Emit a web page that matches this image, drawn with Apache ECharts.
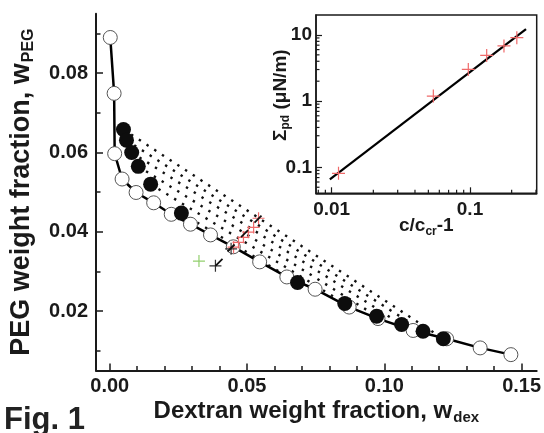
<!DOCTYPE html>
<html><head><meta charset="utf-8">
<script src="https://cdn.jsdelivr.net/npm/echarts@6/dist/echarts.min.js"></script>
<style>html,body{margin:0;padding:0;background:#fff}#c{width:544px;height:433px}</style>
</head><body><div id="c"></div>
<script>
// ---------- main plot data ----------
const binodal = [
  [0.0002, 0.0890], [0.0016, 0.0749], [0.0018, 0.0597], [0.0045, 0.0533],
  [0.0096, 0.0499], [0.0160, 0.0473], [0.0224, 0.0444], [0.0294, 0.0419],
  [0.0367, 0.0392], [0.0450, 0.0362], [0.0546, 0.0324], [0.0645, 0.0286],
  [0.0748, 0.0255], [0.0872, 0.0210], [0.0977, 0.0181], [0.1105, 0.0151],
  [0.1227, 0.0130], [0.1349, 0.0107], [0.1461, 0.0090]
];
const tieUpper = [[0.0050, 0.0658], [0.0061, 0.0631], [0.0080, 0.0600], [0.0104, 0.0565], [0.0149, 0.0520], [0.0261, 0.0447]];
const tieLower = [[0.1215, 0.0130], [0.1141, 0.0149], [0.1063, 0.0166], [0.0972, 0.0187], [0.0856, 0.0219], [0.0684, 0.0272]];
const redCross = [[0.0451, 0.0361], [0.0469, 0.0373], [0.0487, 0.0386], [0.0505, 0.0399], [0.0524, 0.0411], [0.0542, 0.0434]];
const blackCross = [[0.0442, 0.0357], [0.0385, 0.0314]];
const blackSlash = [[0.0398, 0.0323], [0.0442, 0.0359], [0.0491, 0.0395], [0.0540, 0.0432]];
const greenCross = [[0.0325, 0.0326]];
const xMajor = [0, 0.05, 0.10, 0.15];
const xMinor = [0.01, 0.02, 0.03, 0.04, 0.06, 0.07, 0.08, 0.09, 0.11, 0.12, 0.13, 0.14];
const yMajor = [0.02, 0.04, 0.06, 0.08];
const yMinor = [0.01, 0.03, 0.05, 0.07, 0.09];
// ---------- inset data ----------
const insetX = [0.0112, 0.0543, 0.0972, 0.132, 0.176, 0.218];
const insetY = [0.081, 1.19, 3.01, 4.90, 6.82, 9.1];
const fitX = [0.0097, 0.254];
const fitY = [0.066, 12.2];
const insetXMinor = [0.008, 0.009, 0.02, 0.03, 0.04, 0.05, 0.06, 0.07, 0.08, 0.09, 0.2, 0.3];
const insetYMinor = [0.05, 0.06, 0.07, 0.08, 0.09, 0.2, 0.3, 0.4, 0.5, 0.6, 0.7, 0.8, 0.9, 2, 3, 4, 5, 6, 7, 8, 9];

const X0 = -0.005, X1 = 0.1555, Y0 = 0.005, Y1 = 0.095;
const IX0 = 0.0077, IX1 = 0.3035, IY0 = 0.0405, IY1 = 20;
const FONT = '"Liberation Sans", Arial, Helvetica, sans-serif';
const INK = '#1a1a1a';

const chart = echarts.init(document.getElementById('c'));

const cross = 'path://M0,5L10,5M5,0L5,10';
const slash = 'path://M0,10L10,0';

function logLabel(v) {
  const l = Math.log10(v);
  if (Math.abs(l - Math.round(l)) > 1e-6) return '';
  return String(+Math.pow(10, Math.round(l)).toPrecision(3));
}

const series = [];
tieUpper.forEach((p, i) => {
  series.push({
    type: 'line', xAxisIndex: 0, yAxisIndex: 0, data: [p, tieLower[i]],
    symbol: 'none', silent: true, z: 1,
    lineStyle: { color: '#111', width: 2.4, type: [2.4, 6.8] }
  });
});
series.push({
  type: 'line', xAxisIndex: 0, yAxisIndex: 0, data: binodal, z: 2,
  symbol: 'circle', symbolSize: 14, showAllSymbol: true,
  lineStyle: { color: '#000', width: 2.5 },
  itemStyle: { color: '#fff', borderColor: '#555', borderWidth: 1, opacity: 1 },
  emphasis: { disabled: true }
});
series.push({
  type: 'scatter', xAxisIndex: 0, yAxisIndex: 0, data: tieUpper.concat(tieLower), z: 3,
  symbol: 'circle', symbolSize: 15, itemStyle: { color: '#0d0d0d', opacity: 1 }, emphasis: { disabled: true }
});
series.push({
  type: 'scatter', xAxisIndex: 0, yAxisIndex: 0, data: redCross, z: 4,
  symbol: cross, symbolSize: 12,
  itemStyle: { color: 'rgba(0,0,0,0)', borderColor: '#f06a6a', borderWidth: 1.2, opacity: 1 }, emphasis: { disabled: true }
});
series.push({
  type: 'scatter', xAxisIndex: 0, yAxisIndex: 0, data: blackCross, z: 5,
  symbol: cross, symbolSize: 12,
  itemStyle: { color: 'rgba(0,0,0,0)', borderColor: '#333', borderWidth: 1.2, opacity: 1 }, emphasis: { disabled: true }
});
series.push({
  type: 'scatter', xAxisIndex: 0, yAxisIndex: 0, data: blackSlash, z: 5,
  symbol: slash, symbolSize: 7,
  itemStyle: { color: 'rgba(0,0,0,0)', borderColor: '#111', borderWidth: 1.8, opacity: 1 }, emphasis: { disabled: true }
});
series.push({
  type: 'scatter', xAxisIndex: 0, yAxisIndex: 0, data: greenCross, z: 4,
  symbol: cross, symbolSize: 12,
  itemStyle: { color: 'rgba(0,0,0,0)', borderColor: '#93cf6e', borderWidth: 1.2, opacity: 1 }, emphasis: { disabled: true }
});
// inset
series.push({
  type: 'line', xAxisIndex: 2, yAxisIndex: 2, data: fitX.map((x, i) => [x, fitY[i]]),
  symbol: 'none', lineStyle: { color: '#000', width: 2.2 }, silent: true, z: 2
});
series.push({
  type: 'scatter', xAxisIndex: 2, yAxisIndex: 2, data: insetX.map((x, i) => [x, insetY[i]]), z: 3,
  symbol: cross, symbolSize: 13,
  itemStyle: { color: 'rgba(0,0,0,0)', borderColor: '#f06a6a', borderWidth: 1.2, opacity: 1 }, emphasis: { disabled: true }
});
series.push({
  type: 'custom', xAxisIndex: 2, yAxisIndex: 2, silent: true, z: 4,
  data: insetXMinor.map(v => [v, IY0]),
  renderItem: (params, api) => {
    const p = api.coord([api.value(0), api.value(1)]);
    return { type: 'line', shape: { x1: p[0], y1: p[1], x2: p[0], y2: p[1] - 3.5 }, style: { stroke: INK, lineWidth: 1.2 } };
  }
});
series.push({
  type: 'custom', xAxisIndex: 2, yAxisIndex: 2, silent: true, z: 4,
  data: insetYMinor.map(v => [IX0, v]),
  renderItem: (params, api) => {
    const p = api.coord([api.value(0), api.value(1)]);
    return { type: 'line', shape: { x1: p[0], y1: p[1], x2: p[0] + 3.5, y2: p[1] }, style: { stroke: INK, lineWidth: 1.2 } };
  }
});

const labelFont = { fontFamily: FONT, fontWeight: 'bold', color: INK };

chart.setOption({
  animation: false,
  backgroundColor: '#fff',
  grid: [
    { left: 96, right: 7.3, top: 13.7, bottom: 62.5, outerBoundsMode: 'none', containLabel: false },
    { left: 316, right: 7.3, top: 15, bottom: 239.7, outerBoundsMode: 'none', containLabel: false, show: true, borderColor: INK, borderWidth: 1.5, backgroundColor: 'rgba(0,0,0,0)' }
  ],
  xAxis: [
    {
      gridIndex: 0, type: 'value', min: X0, max: X1, position: 'bottom',
      axisLine: { show: true, onZero: false, lineStyle: { color: INK, width: 2 } },
      axisTick: { show: true, inside: true, length: 7, customValues: xMajor, lineStyle: { color: INK, width: 1.5 } },
      axisLabel: Object.assign({ customValues: xMajor, fontSize: 20, margin: 6, formatter: v => v.toFixed(2) }, labelFont),
      splitLine: { show: false },
      name: '{a|Dextran weight fraction, w}{s|dex}', nameLocation: 'middle', nameGap: 26, nameMoveOverlap: false,
      nameTextStyle: { rich: {
        a: { fontFamily: FONT, fontWeight: 'bold', fontSize: 24, color: INK },
        s: { fontFamily: FONT, fontWeight: 'bold', fontSize: 15, color: INK, padding: [14, 0, 0, 1] }
      } }
    },
    {
      gridIndex: 0, type: 'value', min: X0, max: X1, position: 'bottom',
      axisLine: { show: false, onZero: false },
      axisTick: { show: true, inside: true, length: 4.5, customValues: xMinor, lineStyle: { color: INK, width: 1.5 } },
      axisLabel: { show: false }, splitLine: { show: false }
    },
    {
      gridIndex: 1, type: 'log', logBase: 10, min: IX0, max: IX1,
      axisLine: { show: true, onZero: false, lineStyle: { color: INK, width: 1.5 } },
      axisTick: { show: true, inside: true, length: 6, lineStyle: { color: INK, width: 1.2 } },
      axisLabel: Object.assign({ fontSize: 19, margin: 7, showMinLabel: false, showMaxLabel: false, formatter: logLabel }, labelFont),
      splitLine: { show: false }, minorTick: { show: false },
      name: '{a|c/c}{s|cr}{a|-1}', nameLocation: 'middle', nameGap: 21, nameMoveOverlap: false,
      nameTextStyle: { rich: {
        a: { fontFamily: FONT, fontWeight: 'bold', fontSize: 19, color: INK },
        s: { fontFamily: FONT, fontWeight: 'bold', fontSize: 12, color: INK, padding: [11, 0, 0, 0] }
      } }
    }
  ],
  yAxis: [
    {
      gridIndex: 0, type: 'value', min: Y0, max: Y1, position: 'left',
      axisLine: { show: true, onZero: false, lineStyle: { color: INK, width: 2 } },
      axisTick: { show: true, inside: true, length: 7, customValues: yMajor, lineStyle: { color: INK, width: 1.5 } },
      axisLabel: Object.assign({ customValues: yMajor, fontSize: 20, margin: 8, formatter: v => v.toFixed(2) }, labelFont),
      splitLine: { show: false },
      name: '{a|PEG weight fraction, w}{s|PEG}', nameLocation: 'middle', nameGap: 59, nameMoveOverlap: false,
      nameTextStyle: { rich: {
        a: { fontFamily: FONT, fontWeight: 'bold', fontSize: 27, color: INK },
        s: { fontFamily: FONT, fontWeight: 'bold', fontSize: 16, color: INK, padding: [15, 0, 0, 1] }
      } }
    },
    {
      gridIndex: 0, type: 'value', min: Y0, max: Y1, position: 'left',
      axisLine: { show: false, onZero: false },
      axisTick: { show: true, inside: true, length: 4.5, customValues: yMinor, lineStyle: { color: INK, width: 1.5 } },
      axisLabel: { show: false }, splitLine: { show: false }
    },
    {
      gridIndex: 1, type: 'log', logBase: 10, min: IY0, max: IY1,
      axisLine: { show: true, onZero: false, lineStyle: { color: INK, width: 1.5 } },
      axisTick: { show: true, inside: true, length: 6, lineStyle: { color: INK, width: 1.2 } },
      axisLabel: Object.assign({ fontSize: 19, margin: 4, showMinLabel: false, showMaxLabel: false, formatter: logLabel }, labelFont),
      splitLine: { show: false }, minorTick: { show: false },
      name: '{a|Σ}{s|pd}{a| (μN/m)}', nameLocation: 'middle', nameGap: 24, nameMoveOverlap: false,
      nameTextStyle: { padding: [0, 0, 0, 18], rich: {
        a: { fontFamily: FONT, fontWeight: 'bold', fontSize: 19, color: INK },
        s: { fontFamily: FONT, fontWeight: 'bold', fontSize: 12, color: INK, padding: [11, 0, 0, 0] }
      } }
    }
  ],
  graphic: [
    { type: 'text', left: 4, top: 405, style: { text: 'Fig. 1', fontFamily: FONT, fontSize: 31, fontWeight: 'bold', fill: '#222' } }
  ],
  series: series
});
</script></body></html>
